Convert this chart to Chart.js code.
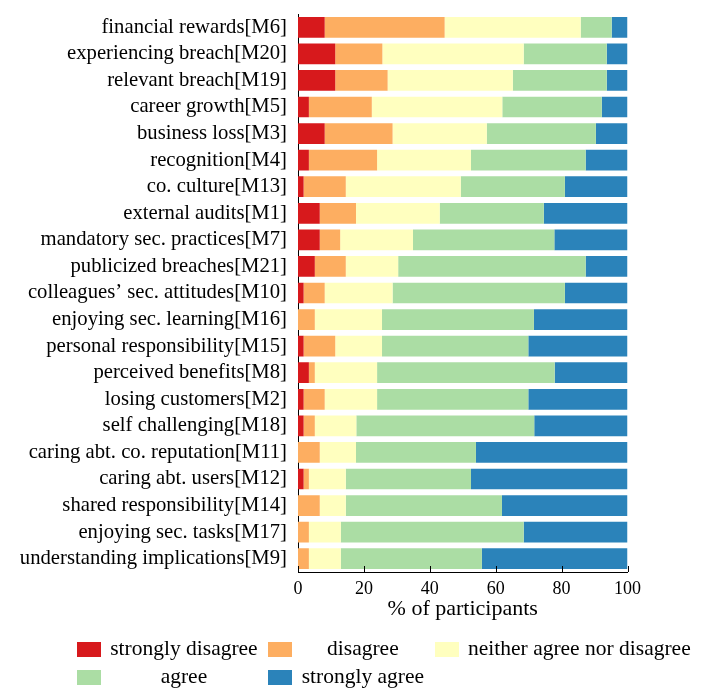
<!DOCTYPE html>
<html>
<head>
<meta charset="utf-8">
<script src="https://cdn.jsdelivr.net/npm/chart.js@4/dist/chart.umd.min.js"></script>
<style>
  html, body { margin: 0; padding: 0; background: #fff; }
  #wrap { position: relative; width: 711px; height: 689px; }
  #chart { position: absolute; left: 0; top: 0; }
  #legend {
    position: absolute; left: 76.7px; top: 635px;
    display: grid;
    grid-template-columns: 24px auto 24px auto 24px auto;
    grid-auto-rows: 28px;
    align-items: center;
    font-family: 'Liberation Serif', serif;
    font-size: 21.5px;
    color: #000;
  }
  #legend .box { width: 24px; height: 15px; }
  #legend .txt { padding: 0 10.5px 0 9.5px; text-align: center; white-space: nowrap; line-height: 1; }
</style>
</head>
<body>
<div id="wrap">
  <canvas id="chart" width="711" height="689"></canvas>
  <div id="legend"></div>
</div>
<script>
// Motivators, top to bottom
const categories = [
  'financial rewards[M6]',
  'experiencing breach[M20]',
  'relevant breach[M19]',
  'career growth[M5]',
  'business loss[M3]',
  'recognition[M4]',
  'co. culture[M13]',
  'external audits[M1]',
  'mandatory sec. practices[M7]',
  'publicized breaches[M21]',
  'colleagues\u2019 sec. attitudes[M10]',
  'enjoying sec. learning[M16]',
  'personal responsibility[M15]',
  'perceived benefits[M8]',
  'losing customers[M2]',
  'self challenging[M18]',
  'caring abt. co. reputation[M11]',
  'caring abt. users[M12]',
  'shared responsibility[M14]',
  'enjoying sec. tasks[M17]',
  'understanding implications[M9]'
];

// Share of participants (%) per answer
const stronglyDisagree = [8.1, 11.3, 11.3, 3.3, 8.1, 3.3, 1.7, 6.6, 6.6, 5.1, 1.7, 0, 1.7, 3.3, 1.7, 1.7, 0, 1.7, 0, 0, 0];
const disagree         = [36.4, 14.3, 15.9, 19.1, 20.6, 20.7, 12.8, 11.0, 6.2, 9.4, 6.4, 5.1, 9.6, 1.8, 6.4, 3.4, 6.6, 1.6, 6.6, 3.3, 3.3];
const neutral          = [41.3, 42.9, 38.0, 39.6, 28.6, 28.5, 34.9, 25.4, 22.1, 15.9, 20.6, 20.4, 14.2, 18.9, 15.9, 12.6, 11.0, 11.2, 7.9, 9.7, 9.7];
const agree            = [9.4, 25.2, 28.5, 30.2, 33.1, 34.8, 31.6, 31.6, 42.9, 56.9, 52.3, 46.1, 44.4, 53.9, 45.9, 54.0, 36.4, 38.0, 47.4, 55.5, 42.8];
const stronglyAgree    = [4.8, 6.3, 6.3, 7.8, 9.6, 12.7, 19.0, 25.4, 22.2, 12.7, 19.0, 28.4, 30.1, 22.1, 30.1, 28.3, 46.0, 47.5, 38.1, 31.5, 44.2];

const seriesLabels = ['strongly disagree', 'disagree', 'neither agree nor disagree', 'agree', 'strongly agree'];
const seriesColors = ['#d7191c', '#fdae61', '#ffffbf', '#abdda4', '#2b83ba'];
const seriesData = [stronglyDisagree, disagree, neutral, agree, stronglyAgree];

const xTicks = [0, 20, 40, 60, 80, 100];

const serif = "'Liberation Serif', 'Times New Roman', serif";

// short inward tick marks on the x axis
const innerTicks = {
  id: 'innerTicks',
  afterDatasetsDraw(chart) {
    const x = chart.scales.x;
    const ctx = chart.ctx;
    ctx.save();
    ctx.strokeStyle = '#000';
    ctx.lineWidth = 1;
    ctx.beginPath();
    xTicks.forEach(v => {
      const px = Math.round(x.getPixelForValue(v)) + 0.5;
      ctx.moveTo(px, x.top);
      ctx.lineTo(px, x.top - 6);
    });
    ctx.stroke();
    ctx.restore();
  }
};

const chart = new Chart(document.getElementById('chart'), {
  type: 'bar',
  data: {
    labels: categories,
    datasets: seriesData.map((d, i) => ({
      label: seriesLabels[i],
      data: d,
      backgroundColor: seriesColors[i],
      borderWidth: 0,
      categoryPercentage: 1,
      barPercentage: 0.78
    }))
  },
  options: {
    indexAxis: 'y',
    responsive: false,
    devicePixelRatio: 1,
    animation: false,
    layout: { padding: { top: 14, right: 83.5, bottom: 67, left: 0 } },
    plugins: {
      legend: { display: false },
      tooltip: { enabled: false }
    },
    scales: {
      x: {
        stacked: true,
        min: 0,
        max: 100,
        afterBuildTicks(scale) { scale.ticks = xTicks.map(v => ({ value: v })); },
        afterFit(scale) { scale.height = 50; },
        grid: { display: false, drawTicks: false },
        border: { display: true, color: '#000', width: 1 },
        ticks: { color: '#000', padding: 6, font: { family: serif, size: 18 } },
        title: {
          display: true,
          text: '% of participants',
          color: '#000',
          padding: 0,
          font: { family: serif, size: 22 }
        }
      },
      y: {
        stacked: true,
        afterFit(scale) {
          scale.width = 298;
          scale.paddingTop = 0;
          scale.paddingBottom = 0;
        },
        grid: { display: false, drawTicks: false },
        border: { display: true, color: '#000', width: 1 },
        ticks: { color: '#000', padding: 11, autoSkip: false, font: { family: serif, size: 20.7 } }
      }
    }
  },
  plugins: [innerTicks]
});

// legend built from the datasets
const legend = document.getElementById('legend');
chart.data.datasets.forEach(ds => {
  const box = document.createElement('div');
  box.className = 'box';
  box.style.background = ds.backgroundColor;
  const txt = document.createElement('div');
  txt.className = 'txt';
  txt.textContent = ds.label;
  legend.appendChild(box);
  legend.appendChild(txt);
});
</script>
</body>
</html>
